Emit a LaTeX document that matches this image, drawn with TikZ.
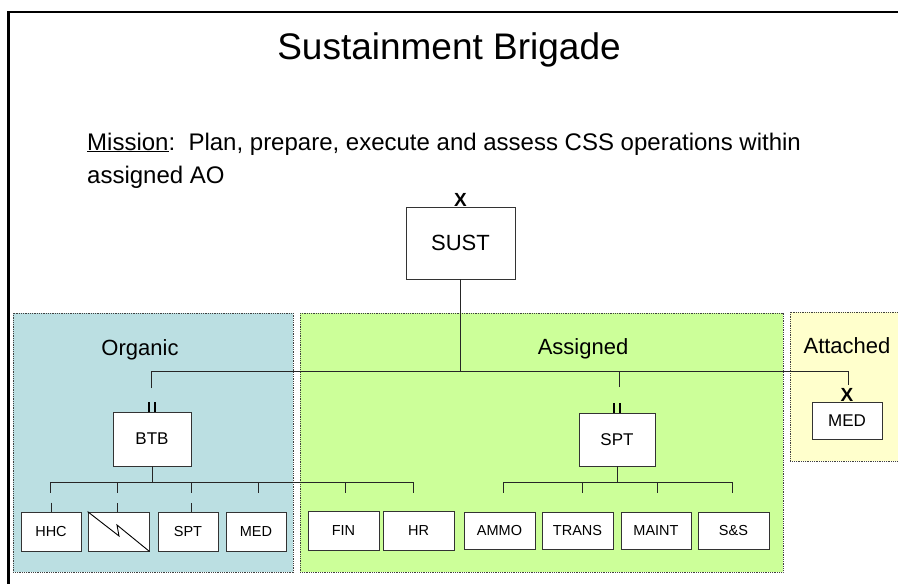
\documentclass[tikz,border=0pt]{standalone}
\usepackage{fontspec}
\setmainfont{Liberation Sans}
\definecolor{orgfill}{HTML}{BBDFE2}
\definecolor{asgfill}{HTML}{CCFF99}
\definecolor{attfill}{HTML}{FFFFCC}
\begin{document}
\begin{tikzpicture}[x=1pt,y=-1pt,
  box/.style={draw=black!80, fill=white, line width=0.8pt, inner sep=0pt, align=center},
  bigbox/.style={box, font=\fontsize{17}{20}\selectfont},
  smallbox/.style={box, font=\fontsize{14.5}{17}\selectfont},
  conn/.style={draw=black!85, line width=0.9pt},
  zone/.style={draw=black!75, line width=0.9pt, dash pattern=on 0.9pt off 0.9pt},
  zonelabel/.style={font=\fontsize{22}{26}\selectfont, anchor=base, inner sep=0pt},
  xmark/.style={font=\bfseries\fontsize{19}{20}\selectfont, inner sep=0pt, anchor=south},
  echelon/.style={draw=black, line width=1.8pt}]
\useasboundingbox (0,0) rectangle (898,584);
\fill[white] (0,0) rectangle (898,584);
% frame
\draw[line width=2.6pt] (8.5,600) -- (8.5,12) -- (910,12);
% zones
\fill[orgfill] (13,313) rectangle (293,572);
\draw[zone] (13,313) rectangle (293,572);
\fill[asgfill] (300,313) rectangle (783,572);
\draw[zone] (300,313) rectangle (783,572);
\fill[attfill] (790,312) rectangle (910,461);
\draw[zone] (790,312) rectangle (910,461);
% texts
\node[anchor=base, inner sep=0pt, font=\fontsize{37}{44}\selectfont] (title) at (449,59) {Sustainment Brigade};
\node[anchor=base west, inner sep=0pt, font=\fontsize{24}{28}\selectfont] (mission) at (87,150) {\underline{Mission}:\ \ Plan, prepare, execute and assess CSS operations within};
\node[anchor=base west, inner sep=0pt, font=\fontsize{24}{28}\selectfont] (mission2) at (87,183) {assigned AO};
\node[zonelabel] (orglab) at (140,355) {Organic};
\node[zonelabel] (asglab) at (583,354) {Assigned};
\node[zonelabel] (attlab) at (847,353) {Attached};
% main boxes
\node[box, minimum width=109pt, minimum height=72pt, font=\fontsize{22}{26}\selectfont] (sust) at (460.5,243) {SUST};
\node[xmark] (xsust) at (sust.north) {X};
\node[bigbox, minimum width=78pt, minimum height=54pt] (btb) at (152,439) {BTB};
\node[bigbox, minimum width=76pt, minimum height=53pt] (spt) at (617,439.5) {SPT};
\node[bigbox, minimum width=70pt, minimum height=37pt] (meda) at (847,420.5) {MED};
\node[xmark] (xmed) at (meda.north) {X};
% small boxes
\node[smallbox, minimum width=60pt, minimum height=39pt] (hhc) at (51,531.5) {HHC};
\node[smallbox, minimum width=61pt, minimum height=39pt] (sig) at (118.5,531.5) {};
\node[smallbox, minimum width=60pt, minimum height=39pt] (spto) at (188,531.5) {SPT};
\node[smallbox, minimum width=60pt, minimum height=39pt] (medo) at (256,531.5) {MED};
\node[smallbox, minimum width=71pt, minimum height=39pt] (fin) at (343.5,531) {FIN};
\node[smallbox, minimum width=71pt, minimum height=39pt] (hr) at (418.5,531) {HR};
\node[smallbox, minimum width=71pt, minimum height=37pt] (ammo) at (499.5,530.5) {AMMO};
\node[smallbox, minimum width=71pt, minimum height=37pt] (trans) at (577.5,530.5) {TRANS};
\node[smallbox, minimum width=70pt, minimum height=37pt] (maint) at (656,530.5) {MAINT};
\node[smallbox, minimum width=71pt, minimum height=37pt] (ss) at (733.5,530.5) {S\&S};
% signal symbol
\draw[line width=0.9pt] (sig.north west) -- (119,536) -- (117,525) -- (sig.south east);
% echelon marks
\draw[echelon] ([xshift=-3pt]btb.north) -- ++(0,-10);
\draw[echelon] ([xshift=3pt]btb.north) -- ++(0,-10);
\draw[echelon] ([xshift=-3pt]spt.north) -- ++(0,-10);
\draw[echelon] ([xshift=3pt]spt.north) -- ++(0,-10);
% top bus
\coordinate (busL) at (151,371);
\coordinate (busR) at (848,371);
\coordinate (btbdrop) at (151,388);
\coordinate (sptdrop) at (619,387);
\coordinate (meddrop) at (848,385);
\draw[conn] (sust.south) -- (sust.south |- busL);
\draw[conn] (btbdrop) -- (busL) -- (busR) -- (meddrop);
\draw[conn] (sptdrop) -- (sptdrop |- busL);
% BTB bus
\coordinate (obusL) at (50,482);
\coordinate (obusR) at (413,482);
\draw[conn] (btb.south) -- (btb.south |- obusL);
\draw[conn] (obusL) -- (obusR);
\foreach \x in {50,117,191,258,345,413} \draw[conn] (\x,482) -- (\x,493);
\draw[conn] (hhc.north) ++(0,-9) -- (hhc.north);
\draw[conn] (117,503) -- (117,512);
\draw[conn] (191,503) -- (191,512);
% SPT bus
\coordinate (abusL) at (503,482);
\coordinate (abusR) at (732,482);
\draw[conn] (spt.south) -- (spt.south |- abusL);
\draw[conn] (abusL) -- (abusR);
\foreach \x in {503,582,657,732} \draw[conn] (\x,482) -- (\x,493);
\end{tikzpicture}
\end{document}
